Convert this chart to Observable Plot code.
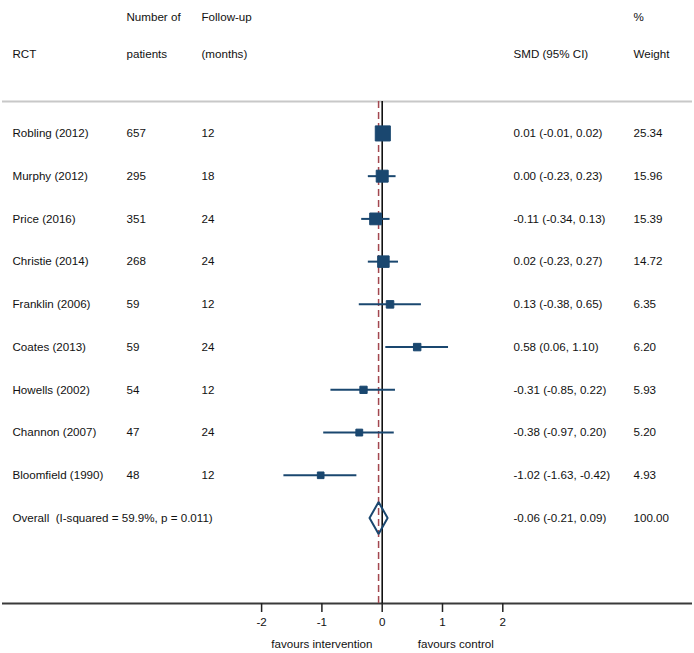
<!DOCTYPE html>
<html>
<head>
<meta charset="utf-8">
<script src="https://cdn.jsdelivr.net/npm/d3@7"></script>
<script src="https://cdn.jsdelivr.net/npm/@observablehq/plot@0.6"></script>
<style>
  html, body { margin: 0; padding: 0; background: #fff; }
  #chart svg { display: block; }
</style>
</head>
<body>
<div id="chart"></div>
<script>
// ---- data ----
const studies = ["Robling (2012)", "Murphy (2012)", "Price (2016)", "Christie (2014)", "Franklin (2006)",
                 "Coates (2013)", "Howells (2002)", "Channon (2007)", "Bloomfield (1990)"];
const patients = [657, 295, 351, 268, 59, 59, 54, 47, 48];
const followup = [12, 18, 24, 24, 12, 24, 12, 24, 12];
const smd = [0.01, 0.00, -0.11, 0.02, 0.13, 0.58, -0.31, -0.38, -1.02];
const ciLow = [-0.01, -0.23, -0.34, -0.23, -0.38, 0.06, -0.85, -0.97, -1.63];
const ciHigh = [0.02, 0.23, 0.13, 0.27, 0.65, 1.10, 0.22, 0.20, -0.42];
const weight = [25.34, 15.96, 15.39, 14.72, 6.35, 6.20, 5.93, 5.20, 4.93];

const overallLabel = "Overall  (I-squared = 59.9%, p = 0.011)";
const overallEst = -0.06, overallLow = -0.21, overallHigh = 0.09, overallWeight = 100.00;

const xTicks = [-2, -1, 0, 1, 2];
const headerTop = ["Number of", "Follow-up", "%"];
const headerBottom = ["RCT", "patients", "(months)", "SMD (95% CI)", "Weight"];
const favourLabels = ["favours intervention", "favours control"];

// ---- derived table ----
const f2 = v => v.toFixed(2);
const rows = studies.map((s, i) => ({
  row: i + 1, study: s, n: String(patients[i]), fu: String(followup[i]),
  est: smd[i], lo: ciLow[i], hi: ciHigh[i], w: weight[i],
  ci: `${f2(smd[i])} (${f2(ciLow[i])}, ${f2(ciHigh[i])})`, wt: f2(weight[i])
}));
const overallRow = studies.length + 1;
const overall = {row: overallRow, study: overallLabel, est: overallEst, lo: overallLow, hi: overallHigh,
  ci: `${f2(overallEst)} (${f2(overallLow)}, ${f2(overallHigh)})`, wt: f2(overallWeight)};
const textRows = [...rows, overall];

const dh = 0.375; // diamond half height in row units
const diamond = [
  {x: overallLow, y: overallRow}, {x: overallEst, y: overallRow - dh},
  {x: overallHigh, y: overallRow}, {x: overallEst, y: overallRow + dh},
  {x: overallLow, y: overallRow}
];

const yTop = 0.25, yBottom = overallRow + 2;

const navy = "#1a476f";
const font = "Liberation Sans, Arial, Helvetica, sans-serif";
const fs = 11.6;
const col = {study: 12, n: 126, fu: 201, ci: 513, wt: 633};

const W = 694, H = 653;
const zeroPx = 381.7, unitPx = 60.3;

const chart = Plot.plot({
  width: W, height: H,
  marginLeft: 0, marginRight: 0, marginTop: 0, marginBottom: 50,
  style: {fontFamily: font, background: "#fff", color: "#111"},
  x: {domain: [-zeroPx / unitPx, (W - zeroPx) / unitPx], range: [0, W], axis: null},
  y: {domain: [0, yBottom], range: [90.2, 603], axis: null},
  r: {type: "sqrt", domain: [0, d3.max(weight)], range: [0, 8.5]},
  marks: [
    // header separator
    Plot.ruleY([yTop], {stroke: "#c8c8c8", strokeWidth: 2, insetLeft: 2, insetRight: 2}),
    // bottom axis line
    Plot.ruleY([yBottom], {stroke: "#3a3a3a", strokeWidth: 2, insetLeft: 2, insetRight: 2}),
    // overall effect dashed line
    Plot.ruleX([overallEst], {y1: yTop, y2: yBottom, stroke: "#a3474f", strokeWidth: 1.5, strokeDasharray: "7,4"}),
    // no-effect line
    Plot.ruleX([0], {y1: yTop, y2: yBottom, stroke: "#111", strokeWidth: 1.6}),
    // confidence intervals
    Plot.ruleY(rows, {y: "row", x1: "lo", x2: "hi", stroke: navy, strokeWidth: 2}),
    // weighted squares
    Plot.dot(rows, {x: "est", y: "row", r: "w", symbol: "square", fill: navy, stroke: navy, strokeWidth: 1}),
    // overall diamond
    Plot.line(diamond, {x: "x", y: "y", stroke: navy, strokeWidth: 2, strokeLinejoin: "miter"}),
    // axis
    Plot.axisX({ticks: xTicks, tickSize: 9, tickPadding: 5, tickFormat: d => String(d),
      fontSize: fs, stroke: "#222", strokeWidth: 1.5, fill: "#111"}),
    // table columns
    Plot.text(textRows, {y: "row", text: "study", frameAnchor: "left", dx: col.study, textAnchor: "start", fontSize: fs, fill: "#111"}),
    Plot.text(rows, {y: "row", text: "n", frameAnchor: "left", dx: col.n, textAnchor: "start", fontSize: fs, fill: "#111"}),
    Plot.text(rows, {y: "row", text: "fu", frameAnchor: "left", dx: col.fu, textAnchor: "start", fontSize: fs, fill: "#111"}),
    Plot.text(textRows, {y: "row", text: "ci", frameAnchor: "left", dx: col.ci, textAnchor: "start", fontSize: fs, fill: "#111"}),
    Plot.text(textRows, {y: "row", text: "wt", frameAnchor: "left", dx: col.wt, textAnchor: "start", fontSize: fs, fill: "#111"}),
    // headers
    Plot.text([headerTop[0]], {frameAnchor: "top-left", dx: col.n, dy: 12.5, textAnchor: "start", fontSize: fs, fill: "#111"}),
    Plot.text([headerTop[1]], {frameAnchor: "top-left", dx: col.fu, dy: 12.5, textAnchor: "start", fontSize: fs, fill: "#111"}),
    Plot.text([headerTop[2]], {frameAnchor: "top-left", dx: col.wt, dy: 12.5, textAnchor: "start", fontSize: fs, fill: "#111"}),
    Plot.text([headerBottom[0]], {frameAnchor: "top-left", dx: col.study, dy: 49, textAnchor: "start", fontSize: fs, fill: "#111"}),
    Plot.text([headerBottom[1]], {frameAnchor: "top-left", dx: col.n, dy: 49, textAnchor: "start", fontSize: fs, fill: "#111"}),
    Plot.text([headerBottom[2]], {frameAnchor: "top-left", dx: col.fu, dy: 49, textAnchor: "start", fontSize: fs, fill: "#111"}),
    Plot.text([headerBottom[3]], {frameAnchor: "top-left", dx: col.ci, dy: 49, textAnchor: "start", fontSize: fs, fill: "#111"}),
    Plot.text([headerBottom[4]], {frameAnchor: "top-left", dx: col.wt, dy: 49, textAnchor: "start", fontSize: fs, fill: "#111"}),
    // favours labels
    Plot.text([favourLabels[0]], {x: -1, frameAnchor: "bottom", dy: 44, textAnchor: "middle", fontSize: fs, fill: "#111"}),
    Plot.text([favourLabels[1]], {x: 1.22, frameAnchor: "bottom", dy: 44, textAnchor: "middle", fontSize: fs, fill: "#111"})
  ]
});
document.getElementById("chart").appendChild(chart);
</script>
</body>
</html>
